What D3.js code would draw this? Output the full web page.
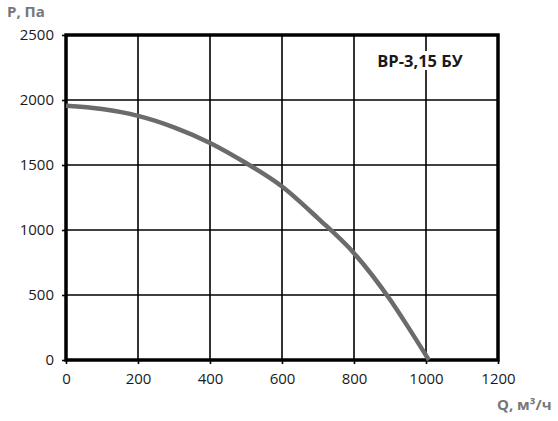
<!DOCTYPE html>
<meta charset="utf-8">
<script src="https://d3js.org/d3.v7.min.js"></script>
<style>
  body { margin: 0; background: #fff; }
  text { font-family: "Open Sans", sans-serif; }
  .tick text { font-size: 15px; fill: #1a1a1a; }
</style>
<svg></svg>
<script>

// DATA

var flow = [0, 100, 200, 300, 400, 500, 600, 700, 800, 900, 950, 1008];
var pressure = [1955, 1930, 1878, 1790, 1670, 1515, 1335, 1090, 822, 465, 255, 0];
var xTicks = [0, 200, 400, 600, 800, 1000, 1200];
var yTicks = [0, 500, 1000, 1500, 2000, 2500];
var modelName = "ВР-3,15 БУ";

// GLOBALS

var width = 558;
var height = 421;
var margin = { top: 35, left: 66, right: 60, bottom: 61 };

var svg = d3.select("svg")
    .attr("width", width)
    .attr("height", height);

var x = d3.scaleLinear()
    .domain([0, 1200])
    .range([margin.left, width - margin.right]);

var y = d3.scaleLinear()
    .domain([0, 2500])
    .range([height - margin.bottom, margin.top]);

// GRID

svg.append("g")
  .selectAll("line.v")
  .data(xTicks.slice(1, -1))
  .enter().append("line")
    .attr("x1", d => x(d)).attr("x2", d => x(d))
    .attr("y1", y(2500)).attr("y2", y(0))
    .attr("stroke", "#000")
    .attr("stroke-width", 1.6);

svg.append("g")
  .selectAll("line.h")
  .data(yTicks.slice(1, -1))
  .enter().append("line")
    .attr("x1", x(0)).attr("x2", x(1200))
    .attr("y1", d => y(d)).attr("y2", d => y(d))
    .attr("stroke", "#000")
    .attr("stroke-width", 1.6);

// AXES

var xAxis = svg.append("g")
  .attr("transform", `translate(0, ${y(0)})`)
  .call(d3.axisBottom(x).tickValues(xTicks).tickFormat(d3.format("d"))
    .tickSize(4).tickPadding(9));

var yAxis = svg.append("g")
  .attr("transform", `translate(${x(0)}, 0)`)
  .call(d3.axisLeft(y).tickValues(yTicks).tickFormat(d3.format("d"))
    .tickSize(4).tickPadding(8));

[xAxis, yAxis].forEach(function(a) {
  a.attr("font-family", null).attr("font-size", null);
  a.select(".domain").remove();
  a.selectAll(".tick line").attr("stroke", "#000").attr("stroke-width", 1.6);
});

// FRAME

svg.append("rect")
    .attr("x", x(0))
    .attr("y", y(2500))
    .attr("width", x(1200) - x(0))
    .attr("height", y(0) - y(2500))
    .attr("fill", "none")
    .attr("stroke", "#000")
    .attr("stroke-width", 3.5);

// CURVE

var line = d3.line()
    .x((d, i) => x(flow[i]))
    .y(d => y(d))
    .curve(d3.curveMonotoneX);

svg.append("path")
    .datum(pressure)
    .attr("d", line)
    .attr("fill", "none")
    .attr("stroke", "#6b6b6b")
    .attr("stroke-width", 4.5);

// LABELS

var modelLabel = svg.append("text")
    .attr("x", 420)
    .attr("y", 67)
    .attr("text-anchor", "middle")
    .style("font-size", "16.5px")
    .style("font-weight", "bold")
    .style("fill", "#1a1a1a")
    .text(modelName);

var bb = modelLabel.node().getBBox();
svg.insert("rect", () => modelLabel.node())
    .attr("x", bb.x - 2)
    .attr("y", bb.y + 2)
    .attr("width", bb.width + 4)
    .attr("height", bb.height - 4)
    .attr("fill", "#fff");

svg.append("text")
    .attr("x", 7)
    .attr("y", 17)
    .style("font-size", "15px")
    .style("font-weight", "bold")
    .style("fill", "#777")
    .text("P, Па");

svg.append("text")
    .attr("x", 497)
    .attr("y", 410)
    .style("font-size", "15px")
    .style("font-weight", "bold")
    .style("fill", "#777")
    .text("Q, м³/ч");

</script>
